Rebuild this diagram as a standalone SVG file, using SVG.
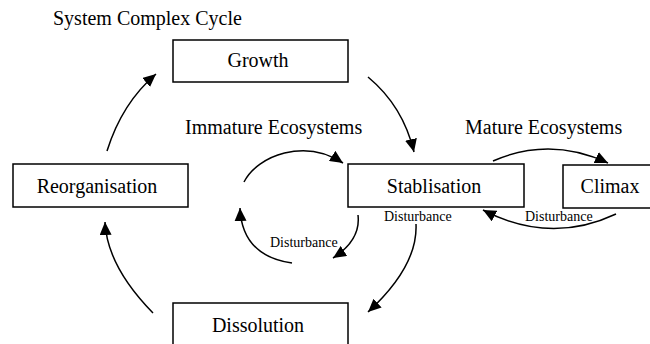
<svg xmlns="http://www.w3.org/2000/svg" width="650" height="344" viewBox="0 0 650 344" font-family="'Liberation Serif', 'Times New Roman', Times, serif">
  <style>
    .box { fill: #fff; stroke: #000; stroke-width: 1.5; }
    .lbl { font-family: 'Liberation Serif', 'Times New Roman', Times, serif; font-size: 20px; fill: #000; }
    .big { text-anchor: middle; }
    .small { font-family: 'Liberation Serif', 'Times New Roman', Times, serif; font-size: 14px; fill: #000; }
    .link { fill: none; stroke: #000; stroke-width: 1.5; marker-end: url(#head); }
  </style>
  <defs>
    <marker id="head" markerUnits="userSpaceOnUse" markerWidth="14" markerHeight="12" viewBox="0 0 14 12" refX="13" refY="6" orient="auto">
      <path d="M0,0 L13,6 L0,12 Z" fill="#000"/>
    </marker>
  </defs>
  <rect width="650" height="344" fill="#fff"/>

  <text class="lbl" x="53" y="25">System Complex Cycle</text>
  <text class="lbl" x="185" y="134">Immature Ecosystems</text>
  <text class="lbl" x="465" y="134">Mature Ecosystems</text>

  <g id="growth">
    <rect class="box" x="173" y="40" width="175" height="42"/>
    <text class="lbl big" x="258" y="67">Growth</text>
  </g>
  <g id="reorganisation">
    <rect class="box" x="13" y="164" width="175" height="43"/>
    <text class="lbl big" x="97" y="193">Reorganisation</text>
  </g>
  <g id="stablisation">
    <rect class="box" x="348" y="164" width="176" height="43"/>
    <text class="lbl big" x="434" y="193">Stablisation</text>
  </g>
  <g id="climax">
    <rect class="box" x="563" y="165" width="100" height="43"/>
    <text class="lbl big" x="610" y="193">Climax</text>
  </g>
  <g id="dissolution">
    <rect class="box" x="173" y="303" width="175" height="50"/>
    <text class="lbl big" x="258" y="332">Dissolution</text>
  </g>

  <g id="connectors">
    <!-- outer cycle -->
    <path class="link" d="M107,151 Q122,103 156,74"/>
    <path class="link" d="M368,77 Q403,106 414,152"/>
    <path class="link" d="M416,224 Q418,266 368,312"/>
    <path class="link" d="M153,313 Q107,266 105,222"/>
    <!-- inner immature loop -->
    <path class="link" d="M244,182 C258,155 305,138 343,163"/>
    <path class="link" d="M358,215 Q361,240 333,258"/>
    <path class="link" d="M292,263 Q242,256 240,208"/>
    <!-- mature loop -->
    <path class="link" d="M493,161 Q550,136 608,163"/>
    <path class="link" d="M616,214 Q550,245 483,210"/>
    <text class="small" x="270" y="247">Disturbance</text>
    <text class="small" x="384" y="221">Disturbance</text>
    <text class="small" x="525" y="221">Disturbance</text>
  </g>
</svg>
